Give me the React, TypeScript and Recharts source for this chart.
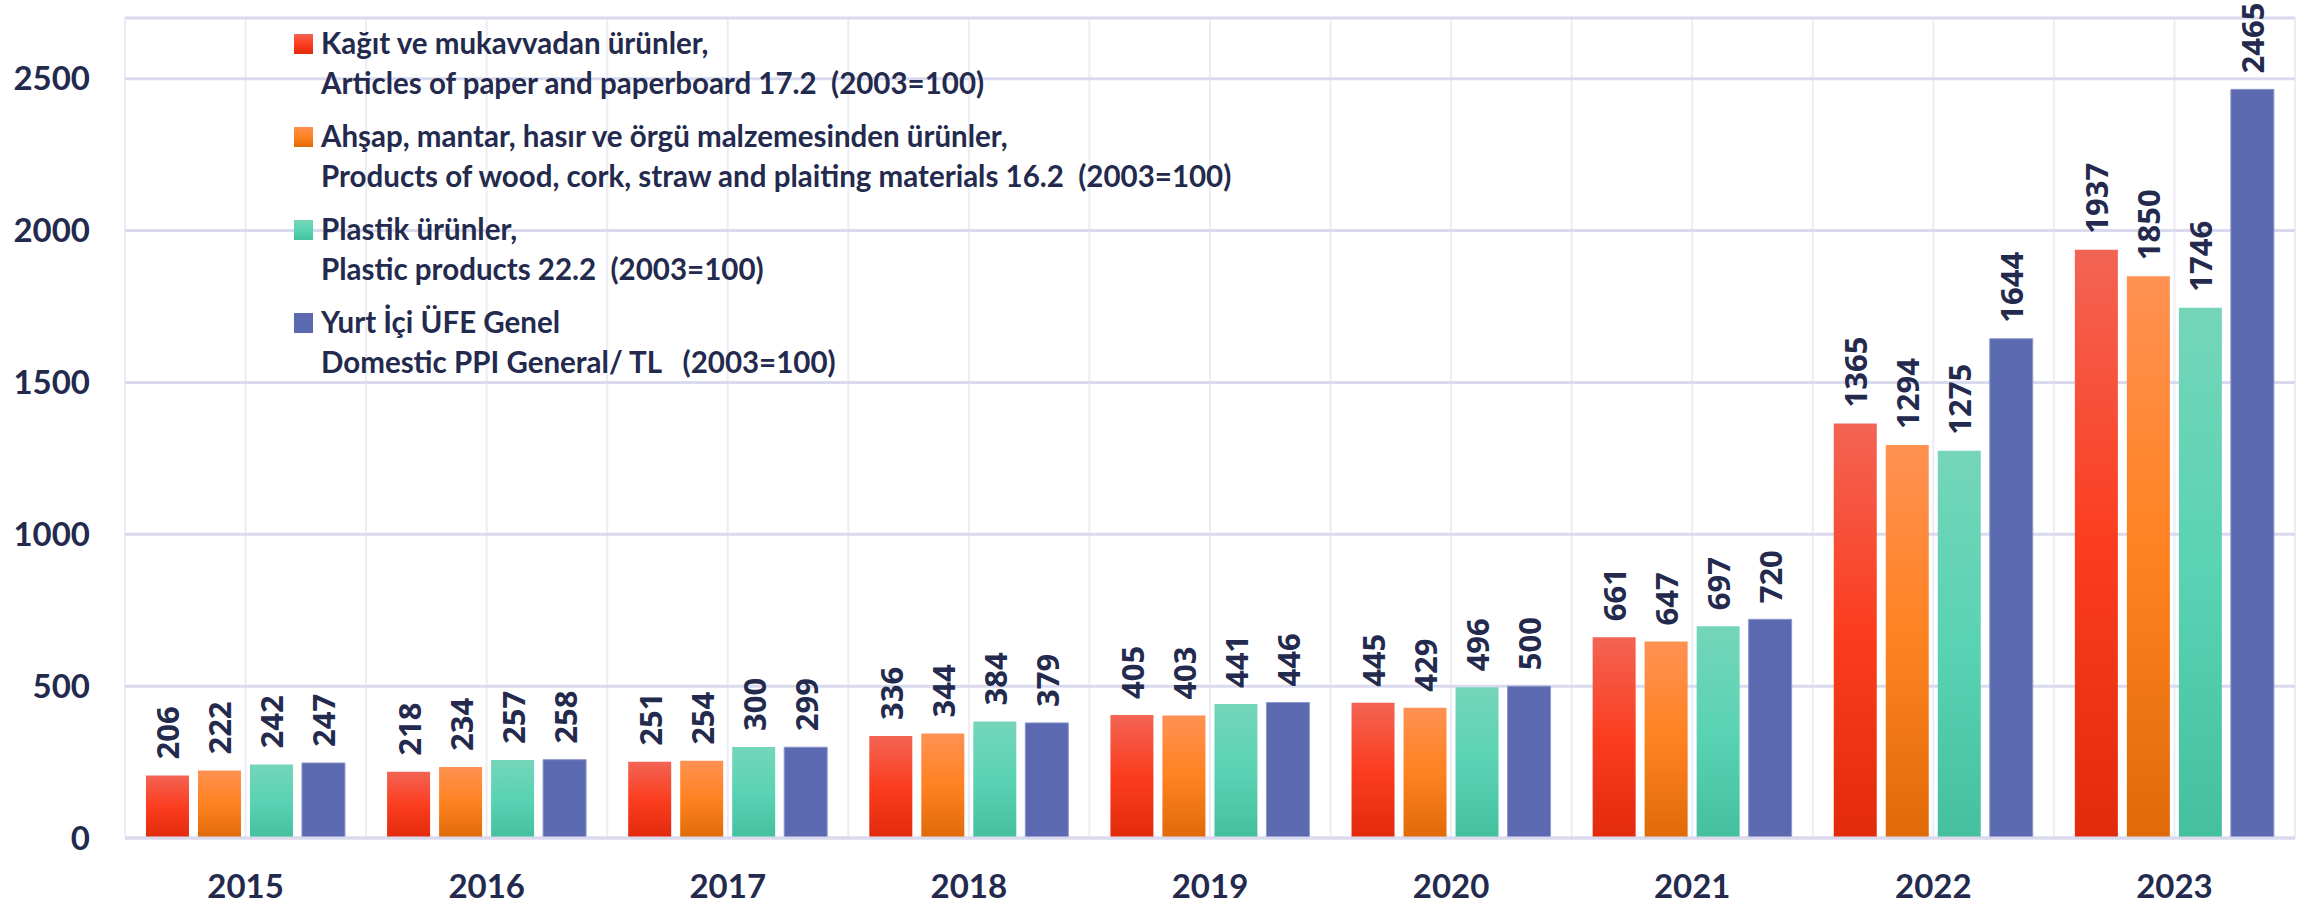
import { BarChart, Bar, XAxis, YAxis, CartesianGrid, LabelList } from "recharts";

const years = ["2015", "2016", "2017", "2018", "2019", "2020", "2021", "2022", "2023"];
const paper = [206, 218, 251, 336, 405, 445, 661, 1365, 1937];
const wood = [222, 234, 254, 344, 403, 429, 647, 1294, 1850];
const plastic = [242, 257, 300, 384, 441, 496, 697, 1275, 1746];
const ppi = [247, 258, 299, 379, 446, 500, 720, 1644, 2465];
const yTicks = [0, 500, 1000, 1500, 2000, 2500];

const legendTr = [
  "Kağıt ve mukavvadan ürünler,",
  "Ahşap, mantar, hasır ve örgü malzemesinden ürünler,",
  "Plastik ürünler,",
  "Yurt İçi ÜFE Genel",
];
const legendEn = [
  "Articles of paper and paperboard 17.2  (2003=100)",
  "Products of wood, cork, straw and plaiting materials 16.2  (2003=100)",
  "Plastic products 22.2  (2003=100)",
  "Domestic PPI General/ TL   (2003=100)",
];

const data = years.map((year, i) => ({
  year,
  paper: paper[i],
  wood: wood[i],
  plastic: plastic[i],
  ppi: ppi[i],
}));

const series = [
  { key: "paper", stops: ["#f36454", "#fb3d1f", "#e22a0d"], stroke: "none" },
  { key: "wood", stops: ["#ff9152", "#ff8220", "#e06a08"], stroke: "none" },
  { key: "plastic", stops: ["#75d5b9", "#59d3b3", "#45c09f"], stroke: "none" },
  { key: "ppi", stops: ["#5b69b0", "#5b69b0", "#5b69b0"], stroke: "#8e97cc" },
];

const TEXT = "#232a4d";

const RotatedLabel = (props: any) => {
  const { x, y, width, value } = props;
  const cx = Number(x) + Number(width) / 2;
  const cy = Number(y) - 16;
  return (
    <text
      x={cx}
      y={cy}
      transform={`rotate(-90 ${cx} ${cy})`}
      textAnchor="start"
      dominantBaseline="central"
      fill={TEXT}
      style={{ fontFamily: "'Open Sans'", fontWeight: 700, fontSize: 31 }}
    >
      {value}
    </text>
  );
};

const LegendBox = () => (
  <div
    style={{
      position: "absolute",
      left: 294,
      top: 23,
      fontFamily: "Lato",
      fontWeight: 700,
      fontSize: 29.5,
      color: TEXT,
    }}
  >
    {series.map((s, i) => (
      <div key={s.key} style={{ marginBottom: 13, position: "relative", paddingLeft: 27 }}>
        <span
          style={{
            position: "absolute",
            left: 0,
            top: 11,
            width: 19,
            height: 20,
            background: `linear-gradient(${s.stops[0]}, ${s.stops[1]}, ${s.stops[2]})`,
          }}
        />
        <div style={{ height: 40, lineHeight: "40px", whiteSpace: "pre" }}>{legendTr[i]}</div>
        <div style={{ height: 40, lineHeight: "40px", whiteSpace: "pre" }}>{legendEn[i]}</div>
      </div>
    ))}
  </div>
);

export default function App() {
  const tickStyle = { fontFamily: "Lato", fontWeight: 700, fontSize: 33, fill: TEXT };
  return (
    <div style={{ position: "absolute", left: 0, top: 0, width: 2300, height: 908, background: "#fff" }}>
      <BarChart
        width={2300}
        height={908}
        data={data}
        margin={{ top: 18, right: 5, left: 0, bottom: 0 }}
        barCategoryGap="8.7%"
        barGap={9}
      >
        <defs>
          {series.map((s) => (
            <linearGradient key={s.key} id={`grad-${s.key}`} x1="0" y1="0" x2="0" y2="1">
              <stop offset="0%" stopColor={s.stops[0]} />
              <stop offset="50%" stopColor={s.stops[1]} />
              <stop offset="100%" stopColor={s.stops[2]} />
            </linearGradient>
          ))}
        </defs>
        <CartesianGrid
          horizontal={false}
          stroke="#ececf6"
          strokeWidth={2}
          verticalCoordinatesGenerator={({ offset }: any) => {
            const band = offset.width / years.length;
            return Array.from({ length: years.length * 2 + 1 }, (_, i) => offset.left + (i * band) / 2);
          }}
        />
        <CartesianGrid vertical={false} stroke="#dadaee" strokeWidth={3} />
        <XAxis
          dataKey="year"
          height={70}
          tickSize={0}
          tickMargin={37}
          tickLine={false}
          axisLine={{ stroke: "#dadaee", strokeWidth: 3 }}
          tick={tickStyle}
        />
        <YAxis
          domain={[0, 2700]}
          ticks={yTicks}
          width={125}
          tickSize={0}
          tickMargin={35}
          tickLine={false}
          axisLine={false}
          tick={tickStyle}
        />
        {series.map((s) => (
          <Bar
            key={s.key}
            dataKey={s.key}
            fill={`url(#grad-${s.key})`}
            stroke={s.stroke}
            strokeWidth={1}
            isAnimationActive={false}
          >
            <LabelList dataKey={s.key} content={<RotatedLabel />} />
          </Bar>
        ))}
      </BarChart>
      <LegendBox />
    </div>
  );
}
